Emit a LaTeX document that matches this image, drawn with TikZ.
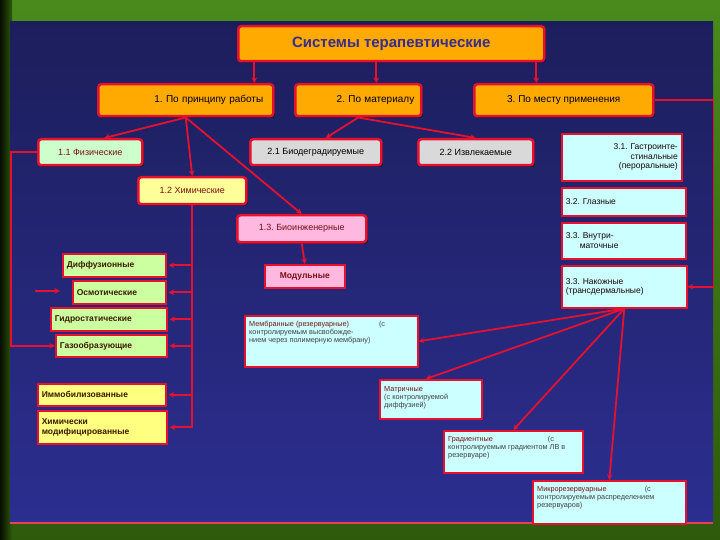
\documentclass[tikz,border=0pt]{standalone}
\usepackage{fontspec}
\setmainfont{Liberation Sans}
\usetikzlibrary{arrows.meta,shadows}
\frenchspacing
\definecolor{navy}{HTML}{2C2E90}
\definecolor{navytop}{HTML}{1C1E5C}
\definecolor{lred}{HTML}{E8102F}
\definecolor{orng}{HTML}{FFAA00}
\definecolor{lgreen}{HTML}{CCFFCC}
\definecolor{lyellow}{HTML}{FFFF99}
\definecolor{lpink}{HTML}{FFB8E0}
\definecolor{lgrey}{HTML}{D9D9D9}
\definecolor{lcyan}{HTML}{CCFFFF}
\definecolor{limeg}{HTML}{CCFFA0}
\definecolor{yel}{HTML}{FFFF80}
\definecolor{dred}{HTML}{7A1010}
\definecolor{dbrown}{HTML}{3A1A00}
\definecolor{ttl}{HTML}{3A2C8C}
\definecolor{bgA}{HTML}{2E5A0C}
\definecolor{bgB}{HTML}{4A8A1C}
\tikzset{
  box/.style={draw=lred, line width=2pt, anchor=north west, inner ysep=2pt, inner xsep=4pt,
    font=\fontsize{9}{10}\selectfont\frenchspacing,
    drop shadow={shadow xshift=1.5pt, shadow yshift=-1.5pt, fill=black, opacity=0.6}},
  rbox/.style={box, rounded corners=3pt, line width=2.5pt},
  sbox/.style={box, line width=1.6pt},
  lbox/.style={sbox, align=left, text=dbrown, font=\fontsize{8.5}{9.5}\selectfont\bfseries},
  cbox/.style={sbox, fill=lcyan, text=black!80!dred, font=\fontsize{8.5}{9.5}\selectfont\frenchspacing},
  txt/.style={anchor=north west, inner sep=0pt, align=left, font=\fontsize{7.3}{8.2}\selectfont, text=black!75},
  conn/.style={draw=lred, line width=1.8pt, -{Stealth[length=5.5pt,width=5.5pt]}},
  line/.style={draw=lred, line width=1.8pt}
}
\begin{document}
\begin{tikzpicture}[x=1pt,y=-1pt]
\useasboundingbox (0,0) rectangle (720,540);
% background
\shade[top color=bgB, bottom color=bgA] (0,0) rectangle (720,540);
\shade[left color=black!85!bgA, right color=bgA] (0,0) rectangle (12,540);
\shade[top color=navytop, bottom color=navy] (10,22) rectangle (713,523);
\draw[lred!80!white, line width=1.2pt] (10,523) -- (713,523);
% top
\node[rbox, fill=orng, minimum width=306pt, minimum height=35pt,
  font=\fontsize{15}{17}\selectfont\bfseries, text=ttl] (t) at (237,25) {Системы терапевтические};
\node[rbox, fill=orng, minimum width=175pt, minimum height=32pt, inner xsep=10pt, text width=155pt, align=right,
  font=\fontsize{10}{11}\selectfont\frenchspacing] (l1) at (97,83) {1. По принципу работы};
\node[rbox, fill=orng, minimum width=126pt, minimum height=32pt, inner xsep=7pt, text width=112pt, align=right,
  font=\fontsize{10}{11}\selectfont\frenchspacing] (l2) at (294,83) {2. По материалу};
\node[rbox, fill=orng, minimum width=179pt, minimum height=32pt,
  font=\fontsize{10}{11}\selectfont\frenchspacing] (l3) at (473,83) {3. По месту применения};
% level 3
\node[rbox, fill=lgreen, minimum width=104pt, minimum height=26pt, text=dred] (p11) at (37,138) {1.1 Физические};
\node[rbox, fill=lyellow, minimum width=108pt, minimum height=27pt, text=dred] (p12) at (137,176) {1.2 Химические};
\node[rbox, fill=lpink, minimum width=129pt, minimum height=27pt, text=dred] (p13) at (236,214) {1.3. Биоинженерные};
\node[rbox, fill=lgrey, minimum width=131pt, minimum height=26pt] (p21) at (249,138) {2.1 Биодеградируемые};
\node[rbox, fill=lgrey, minimum width=115pt, minimum height=26pt] (p22) at (417,138) {2.2 Извлекаемые};
% right column
\node[cbox, minimum width=120pt, minimum height=47pt, text width=112pt, align=right] (g31) at (561,133) {3.1. Гастроинте-\\стинальные\\(пероральные)};
\node[cbox, minimum width=124pt, minimum height=28pt, text width=116pt, align=left] (g32) at (561,187) {3.2. Глазные};
\node[cbox, minimum width=124pt, minimum height=36pt, text width=116pt, align=left] (g33) at (561,222) {3.3. Внутри-\\\hspace*{14pt}маточные};
\node[cbox, minimum width=125pt, minimum height=42pt, text width=117pt, align=left] (nak) at (561,265) {3.3. Накожные\\(трансдермальные)};
% modular
\node[sbox, fill=lpink, minimum width=80pt, minimum height=23pt, text=dred, font=\fontsize{8.5}{9.5}\selectfont\bfseries] (mod) at (264,264) {Модульные};
% left column
\node[lbox, fill=limeg, minimum width=103pt, minimum height=23pt, text width=95pt] (dif) at (62,253) {Диффузионные};
\node[lbox, fill=limeg, minimum width=93pt, minimum height=23pt, text width=85pt] (osm) at (72,280) {Осмотические};
\node[lbox, fill=limeg, minimum width=116pt, minimum height=23pt, text width=108pt] (gid) at (50,307) {Гидростатические};
\node[lbox, fill=limeg, minimum width=111pt, minimum height=22pt, text width=103pt] (gas) at (55,334) {Газообразующие};
\node[lbox, fill=yel, minimum width=128pt, minimum height=22pt, text width=120pt] (imm) at (37,383) {Иммобилизованные};
\node[lbox, fill=yel, minimum width=129pt, minimum height=33pt, text width=121pt] (chm) at (37,410) {Химически\\модифицированные};
% bottom boxes
\node[sbox, fill=lcyan, minimum width=173pt, minimum height=51pt] (mem) at (244,315) {};
\node[txt] at ([xshift=5pt,yshift=-6pt]mem.north west) {\textcolor{dred}{Мембранные (резервуарные)}\hspace{30pt}(с\\контролируемым высвобожде-\\нием через полимерную мембрану)};
\node[sbox, fill=lcyan, minimum width=102pt, minimum height=39pt] (mat) at (379,379) {};
\node[txt] at ([xshift=5pt,yshift=-7pt]mat.north west) {\textcolor{dred}{Матричные}\\(с контролируемой\\диффузией)};
\node[sbox, fill=lcyan, minimum width=139pt, minimum height=42pt] (grad) at (443,430) {};
\node[txt] at ([xshift=5pt,yshift=-6pt]grad.north west) {\textcolor{dred}{Градиентные}\hspace{55pt}(с\\контролируемым градиентом ЛВ в\\резервуаре)};
\node[sbox, fill=lcyan, minimum width=153pt, minimum height=43pt] (mic) at (532,480) {};
\node[txt] at ([xshift=5pt,yshift=-6pt]mic.north west) {\textcolor{dred}{Микрорезервуарные}\hspace{38pt}(с\\контролируемым распределением\\резервуаров)};
% connectors
\draw[conn] ([xshift=-137pt]t.south) -- ([xshift=-137pt]t.south |- l1.north);
\draw[conn] ([xshift=-15pt]t.south) -- ([xshift=-15pt]t.south |- l2.north);
\draw[conn] ([xshift=145pt]t.south) -- ([xshift=145pt]t.south |- l3.north);
\draw[conn] (l1.south) -- ([xshift=14pt]p11.north);
\draw[conn] (l1.south) -- (p12.north);
\draw[conn] (l1.south) -- (p13.north);
\draw[conn] (l2.south) -- ([xshift=10pt]p21.north);
\draw[conn] (l2.south) -- (p22.north);
\draw[conn] (p13.south) -- (mod.north);
% chemical branch
\draw[line] (p12.south) -- ([yshift=-1pt]p12.south |- chm.east);
\foreach \n in {dif,osm,gid,gas,imm,chm}
  \draw[conn] (p12.south |- \n.east) -- ([xshift=2pt]\n.east);
% physical branch
\draw[conn] (p11.west) -- ++(-26,0) |- (gas.west);
\coordinate (sa) at (35,291);
\coordinate (sb) at (60,291);
\draw[conn, line width=1.2pt] (sa) -- (sb);
% place of application
\draw[conn] (l3.east) -- ++(59,0) |- (nak.east);
\draw[conn] (nak.south) -- (mem.east);
\draw[conn] (nak.south) -- ([xshift=-5pt]mat.north);
\draw[conn] (nak.south) -- (grad.north);
\draw[conn] (nak.south) -- (mic.north);
\end{tikzpicture}
\end{document}
